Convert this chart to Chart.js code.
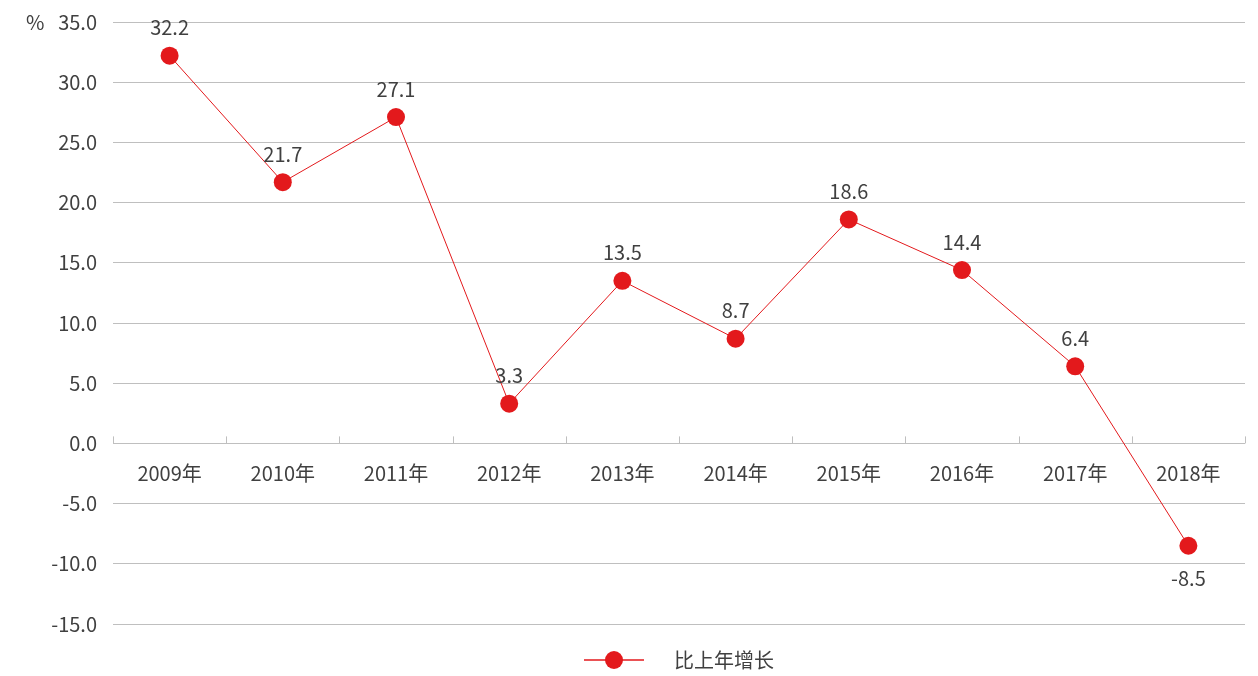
<!DOCTYPE html>
<html>
<head>
<meta charset="utf-8">
<script src="https://cdn.jsdelivr.net/npm/chart.js@4.4.0/dist/chart.umd.min.js"></script>
<style>
  html, body { margin: 0; padding: 0; background: #fff; }
  #wrap { width: 1258px; height: 676px; }
</style>
</head>
<body>
<div id="wrap"><canvas id="grafico"></canvas></div>
<script>
var anios = ['2009年', '2010年', '2011年', '2012年', '2013年', '2014年', '2015年', '2016年', '2017年', '2018年'];
var crecimiento = [32.2, 21.7, 27.1, 3.3, 13.5, 8.7, 18.6, 14.4, 6.4, -8.5];
var marcasY = [-15, -10, -5, 0, 5, 10, 15, 20, 25, 30, 35];
var nombreSerie = '比上年增长';
var unidad = '%';

var rojo = '#e3191c';
var gris = '#bfbfbf';
var texto = '#404040';
var fuente = '"Noto Sans CJK SC", "Noto Sans", sans-serif';

// icono de leyenda: linea con circulo
var icono = document.createElement('canvas');
icono.width = 80;
icono.height = 20;
(function() {
    var c = icono.getContext('2d');
    c.strokeStyle = rojo;
    c.lineWidth = 1.5;
    c.beginPath();
    c.moveTo(0, 10);
    c.lineTo(60, 10);
    c.stroke();
    c.fillStyle = rojo;
    c.beginPath();
    c.arc(30, 10, 9, 0, Math.PI * 2);
    c.fill();
})();

// marcas hacia arriba sobre la linea del cero
var ejeCero = {
    id: 'ejeCero',
    afterDatasetsDraw: function(chart) {
        var xs = chart.scales.x, ys = chart.scales.y, ctx = chart.ctx;
        var y0 = ys.getPixelForValue(0);
        var n = anios.length;
        ctx.save();
        ctx.strokeStyle = gris;
        ctx.lineWidth = 1;
        for (var i = 0; i <= n; i++) {
            var x = Math.round(xs.left + i * xs.width / n) + 0.5;
            ctx.beginPath();
            ctx.moveTo(x, y0);
            ctx.lineTo(x, y0 - 7);
            ctx.stroke();
        }
        ctx.restore();
    }
};

// valores sobre los puntos
var etiquetas = {
    id: 'etiquetas',
    afterDatasetsDraw: function(chart) {
        var ctx = chart.ctx;
        var meta = chart.getDatasetMeta(0);
        ctx.save();
        ctx.font = '20px ' + fuente;
        ctx.fillStyle = texto;
        ctx.textAlign = 'center';
        ctx.textBaseline = 'middle';
        meta.data.forEach(function(p, i) {
            var v = crecimiento[i];
            var dy = v < 0 ? 33 : -28;
            ctx.fillText(v.toFixed(1), p.x, p.y + dy);
        });
        // unidad
        ctx.textAlign = 'left';
        ctx.fillText(unidad, 26, chart.scales.y.getPixelForValue(marcasY[marcasY.length - 1]));
        ctx.restore();
    }
};

var canvas = document.getElementById('grafico').getContext('2d');
window.grafico = new Chart(canvas, {
    type: 'line',
    data: {
        labels: anios,
        datasets: [{
            label: nombreSerie,
            data: crecimiento,
            borderColor: rojo,
            backgroundColor: rojo,
            borderWidth: 1,
            pointRadius: 9,
            pointHoverRadius: 9,
            pointBorderWidth: 0,
            pointBackgroundColor: rojo,
            tension: 0
        }]
    },
    options: {
        responsive: true,
        maintainAspectRatio: false,
        animation: false,
        layout: { padding: { top: 22, right: 13, left: 0, bottom: -4 } },
        plugins: {
            tooltip: { enabled: false },
            legend: {
                position: 'bottom',
                fullSize: false,
                labels: {
                    usePointStyle: true,
                    pointStyle: icono,
                    pointStyleWidth: 80,
                    color: texto,
                    padding: 26,
                    font: { family: fuente, size: 20 }
                }
            }
        },
        scales: {
            x: {
                type: 'category',
                position: { y: 0 },
                offset: true,
                grid: { display: false },
                border: { display: false },
                ticks: {
                    color: texto,
                    padding: 10,
                    maxRotation: 0,
                    autoSkip: false,
                    font: { family: fuente, size: 20 }
                }
            },
            y: {
                min: marcasY[0],
                max: marcasY[marcasY.length - 1],
                afterBuildTicks: function(scale) {
                    scale.ticks = marcasY.map(function(v) { return { value: v }; });
                },
                afterFit: function(scale) {
                    scale.width = 113;
                    scale.paddingTop = 0;
                    scale.paddingBottom = 0;
                },
                grid: { color: gris, lineWidth: 1, drawTicks: false },
                border: { display: false },
                ticks: {
                    color: texto,
                    padding: 16,
                    font: { family: fuente, size: 20 },
                    callback: function(v) { return Number(v).toFixed(1); }
                }
            }
        }
    },
    plugins: [ejeCero, etiquetas]
});
</script>
</body>
</html>
